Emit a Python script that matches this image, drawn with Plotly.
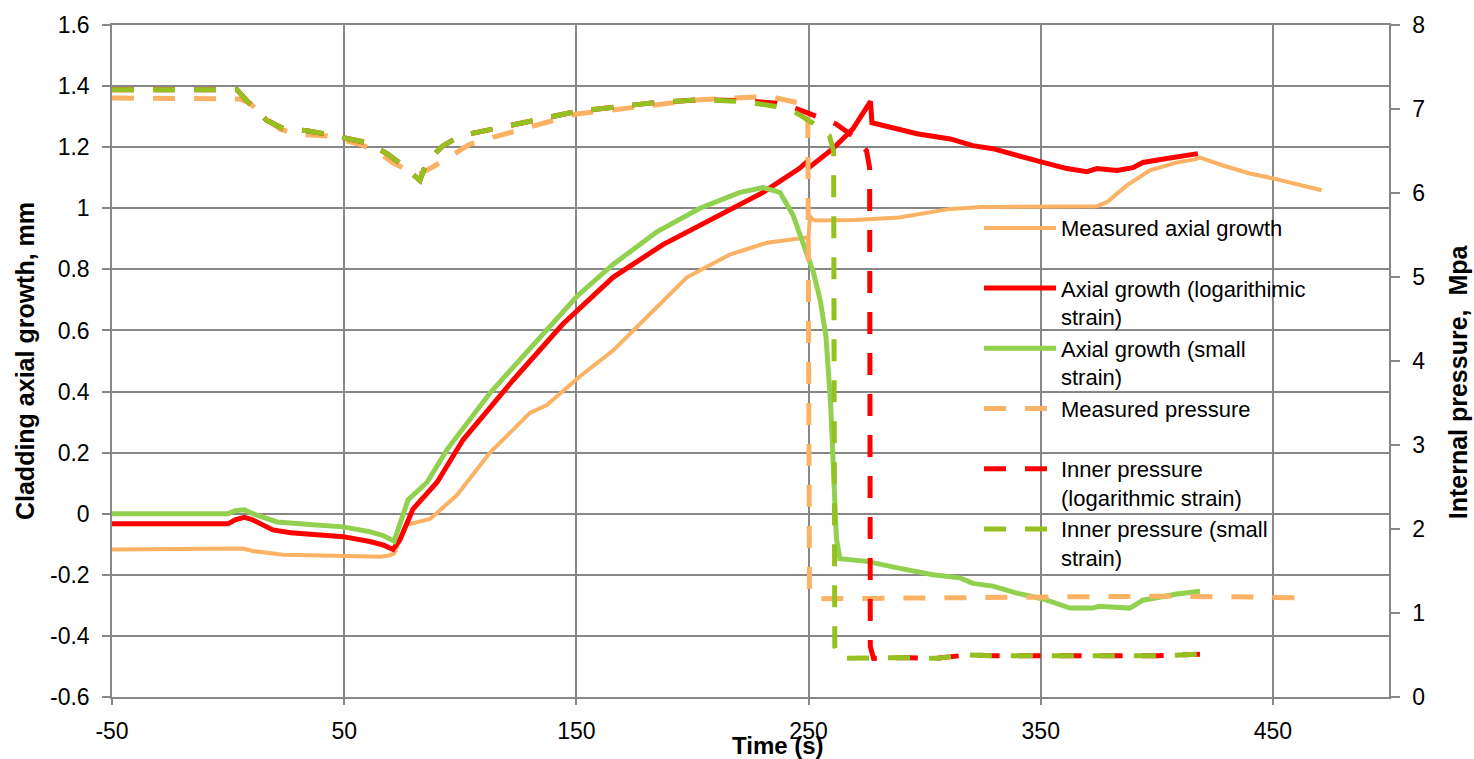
import plotly.graph_objects as go

# ---------------- data ----------------
# Measured axial growth (mm, left axis)
t_meas = [-50, 0, 6.4, 10.7, 15, 23.6, 30, 45, 59.6, 66, 69.7, 71.5, 77, 87, 98.6, 112.8, 130,
          137.3, 151.6, 165.8, 180.4, 197.6, 216, 232, 247.6, 250, 250.6, 251.5, 253, 270, 289,
          311, 325, 346, 374.2, 378.5, 387.1, 397, 408.7, 416.4, 418.6, 428.5, 440, 450, 471]
g_meas = [-0.117, -0.115, -0.114, -0.122, -0.127, -0.134, -0.135, -0.137, -0.141, -0.141, -0.136,
          -0.13, -0.036, -0.017, 0.061, 0.2, 0.33, 0.356, 0.45, 0.534, 0.644, 0.774, 0.848, 0.887,
          0.903, 0.905, 0.975, 0.965, 0.96, 0.962, 0.97, 0.998, 1.004, 1.004, 1.007, 1.02, 1.075,
          1.124, 1.15, 1.16, 1.166, 1.14, 1.114, 1.098, 1.059]

# Axial growth (logarithmic strain)
t_log = [-50, 0, 3, 7, 10, 15, 19.3, 27, 36.6, 49.5, 61, 67, 71, 74, 79.6, 90, 101.2, 122.7, 144.2,
         165.8, 187.3, 208.8, 230.4, 246, 249, 250.5, 260.5, 269.1, 275, 276.7, 277.3, 286.3, 296.7,
         311, 320.8, 329.4, 339.7, 351, 361.3, 369.9, 374.2, 382.8, 389.7, 394, 404.3, 417.7]
g_log = [-0.033, -0.033, -0.02, -0.012, -0.018, -0.038, -0.053, -0.062, -0.066, -0.075, -0.091,
         -0.103, -0.117, -0.085, 0.015, 0.103, 0.242, 0.437, 0.621, 0.774, 0.881, 0.968, 1.052,
         1.13, 1.15, 1.135, 1.195, 1.26, 1.325, 1.35, 1.28, 1.263, 1.244, 1.227, 1.205, 1.195,
         1.172, 1.15, 1.13, 1.12, 1.13, 1.124, 1.133, 1.15, 1.163, 1.179]

# Axial growth (small strain)
t_small = [-50, 0, 3, 7, 10.7, 21, 36.6, 49.5, 61, 67, 71.5, 77.5, 85.7, 94.3, 112.8, 130, 150.3,
           165.8, 184.7, 203.2, 220.5, 230.4, 237.7, 243.3, 247.6, 252, 255, 257.5, 259.5, 261,
           262, 263.5, 275, 289.4, 303.6, 315.2, 320.8, 329.4, 339.7, 351, 362.6, 372.5, 375,
           388.4, 394, 408.6, 418.6]
g_small = [0.0, 0.0, 0.01, 0.013, 0.0, -0.027, -0.036, -0.043, -0.059, -0.072, -0.09, 0.045,
           0.103, 0.21, 0.395, 0.54, 0.712, 0.816, 0.923, 1.0, 1.052, 1.068, 1.052, 0.978, 0.89,
           0.793, 0.7, 0.58, 0.36, 0.1, -0.08, -0.147, -0.156, -0.179, -0.2, -0.21, -0.228,
           -0.237, -0.26, -0.279, -0.309, -0.309, -0.303, -0.309, -0.283, -0.263, -0.254]

# Measured pressure (MPa, right axis)
t_pmeas = [-50, 0, 5, 9.4, 13.7, 22.4, 29.7, 42.6, 48.2, 56.8, 64.1, 71, 79.6, 82, 88.2, 95.6,
           104, 108.5, 150, 203, 217, 233, 246, 249.7, 250.4, 252, 255, 320, 400, 440, 461.6]
p_meas = [7.13, 7.13, 7.12, 7.07, 6.95, 6.76, 6.70, 6.68, 6.64, 6.58, 6.50, 6.36, 6.24, 6.22,
          6.31, 6.44, 6.58, 6.62, 6.94, 7.11, 7.13, 7.15, 7.07, 6.97, 1.25, 1.17, 1.17, 1.19, 1.2,
          1.19, 1.18]

# Inner pressure (logarithmic strain)
t_plog = [-50, 3.8, 9.4, 16.8, 23.6, 34, 42.6, 52.5, 59.8, 68.4, 75.3, 82.6, 85.7, 92.5, 99.9,
          150, 181.7, 203, 222, 236, 245, 253.6, 262, 269, 275, 276.3, 276.6, 278, 290, 305, 318,
          330, 360, 380, 400, 418.6]
p_log = [7.23, 7.23, 7.06, 6.86, 6.77, 6.74, 6.70, 6.65, 6.60, 6.47, 6.33, 6.15, 6.38, 6.56,
         6.68, 6.97, 7.07, 7.11, 7.10, 7.07, 7.0, 6.91, 6.82, 6.68, 6.5, 6.3, 0.6, 0.46, 0.47,
         0.46, 0.5, 0.49, 0.49, 0.5, 0.49, 0.51]

# Inner pressure (small strain)
t_psmall = [-50, 3.8, 9.4, 16.8, 23.6, 34, 42.6, 52.5, 59.8, 68.4, 75.3, 82.6, 85.7, 92.5, 99.9,
            150, 181.7, 203, 222, 236, 245, 252, 259, 260.8, 261.3, 263, 290, 305, 318, 330, 360,
            380, 400, 418.6]
p_small = [7.23, 7.23, 7.06, 6.86, 6.77, 6.74, 6.70, 6.65, 6.60, 6.47, 6.33, 6.15, 6.38, 6.56,
           6.68, 6.97, 7.07, 7.11, 7.09, 7.03, 6.95, 6.83, 6.68, 6.5, 0.6, 0.46, 0.47, 0.46, 0.5,
           0.49, 0.49, 0.5, 0.49, 0.51]

x_tickvals = [-50, 50, 150, 250, 350, 450]
x_ticktext = ["-50", "50", "150", "250", "350", "450"]
y_tickvals = [-0.6, -0.4, -0.2, 0, 0.2, 0.4, 0.6, 0.8, 1, 1.2, 1.4, 1.6]
y_ticktext = ["-0.6", "-0.4", "-0.2", "0", "0.2", "0.4", "0.6", "0.8", "1", "1.2", "1.4", "1.6"]
y2_tickvals = [0, 1, 2, 3, 4, 5, 6, 7, 8]
y2_ticktext = ["0", "1", "2", "3", "4", "5", "6", "7", "8"]

names = ["Measured axial growth<br> ",
         "Axial growth (logarithimic<br>strain)",
         "Axial growth (small<br>strain)",
         "Measured pressure<br> ",
         "Inner pressure<br>(logarithmic strain)",
         "Inner pressure (small<br>strain)"]

# ---------------- styles ----------------
ORANGE = "#FBB264"
RED = "#FF0000"
GREEN = "#92D050"
OLIVE = "#94C11F"
GRID = "#878787"
DASH = "22px,19px"
FONT = "Liberation Sans, Arial, sans-serif"

W, H = 1474, 759
L, R, T, B = 112, 85, 18, 62
PW, PH = W - L - R, H - T - B


def px_x(p):
    return (p - L) / PW


def px_y(p):
    return (H - B - p) / PH


fig = go.Figure()
fig.add_trace(go.Scatter(x=t_meas, y=g_meas, name=names[0], mode="lines",
                         line=dict(color=ORANGE, width=4)))
fig.add_trace(go.Scatter(x=t_log, y=g_log, name=names[1], mode="lines",
                         line=dict(color=RED, width=5)))
fig.add_trace(go.Scatter(x=t_small, y=g_small, name=names[2], mode="lines",
                         line=dict(color=GREEN, width=5)))
fig.add_trace(go.Scatter(x=t_pmeas, y=p_meas, name=names[3], mode="lines", yaxis="y2",
                         line=dict(color=ORANGE, width=5, dash=DASH)))
fig.add_trace(go.Scatter(x=t_plog, y=p_log, name=names[4], mode="lines", yaxis="y2",
                         line=dict(color=RED, width=5, dash=DASH)))
fig.add_trace(go.Scatter(x=t_psmall, y=p_small, name=names[5], mode="lines", yaxis="y2",
                         line=dict(color=OLIVE, width=5, dash=DASH)))

fig.update_layout(
    width=W, height=H,
    margin=dict(l=L, r=R, t=T, b=B),
    paper_bgcolor="white", plot_bgcolor="white",
    font=dict(family=FONT, size=23, color="black"),
    showlegend=True,
    legend=dict(x=px_x(979), y=px_y(202), xanchor="left", yanchor="top",
                bgcolor="rgba(0,0,0,0)", borderwidth=0, font=dict(size=22, family=FONT),
                valign="top", itemwidth=72, tracegroupgap=0),
    # white panel behind the legend that hides the gridlines (drawn under the traces)
    shapes=[dict(type="rect", xref="paper", yref="paper", x0=px_x(975), x1=px_x(1365),
                 y0=px_y(568), y1=px_y(215), fillcolor="white", line=dict(width=0),
                 layer="between")],
    xaxis=dict(range=[-50, 500], tickvals=x_tickvals, ticktext=x_ticktext,
               showgrid=True, gridcolor=GRID, gridwidth=1.5, zeroline=False,
               showline=True, linecolor=GRID, linewidth=1.5, mirror=True,
               ticks="outside", ticklen=6, tickcolor=GRID, tickwidth=1.5,
               ticklabelstandoff=7, tickfont=dict(size=23)),
    yaxis=dict(range=[-0.6, 1.6], tickvals=y_tickvals, ticktext=y_ticktext,
               showgrid=True, gridcolor=GRID, gridwidth=1.5, zeroline=False,
               showline=True, linecolor=GRID, linewidth=1.5, mirror=True,
               ticks="outside", ticklen=8, tickcolor=GRID, tickwidth=1.5,
               ticklabelstandoff=8, tickfont=dict(size=23),
               title=dict(text="Cladding axial growth, mm", standoff=8,
                          font=dict(size=25, weight="bold"))),
    yaxis2=dict(range=[0, 8], tickvals=y2_tickvals, ticktext=y2_ticktext,
                overlaying="y", side="right", showgrid=False, zeroline=False,
                showline=True, linecolor=GRID, linewidth=1.5,
                ticks="outside", ticklen=9, tickcolor=GRID, tickwidth=1.5,
                ticklabelstandoff=8, tickfont=dict(size=23)),
    annotations=[
        dict(text="Time (s)", xref="paper", yref="paper", x=px_x(778),
             y=px_y(746), xanchor="center", yanchor="middle", showarrow=False,
             font=dict(size=24, weight="bold")),
        dict(text="Internal pressure,  Mpa", xref="paper", yref="paper",
             x=px_x(1458), y=px_y(378), xanchor="center", yanchor="middle",
             textangle=-90, showarrow=False, font=dict(size=25, weight="bold")),
    ],
)

fig.write_html("out.html")
